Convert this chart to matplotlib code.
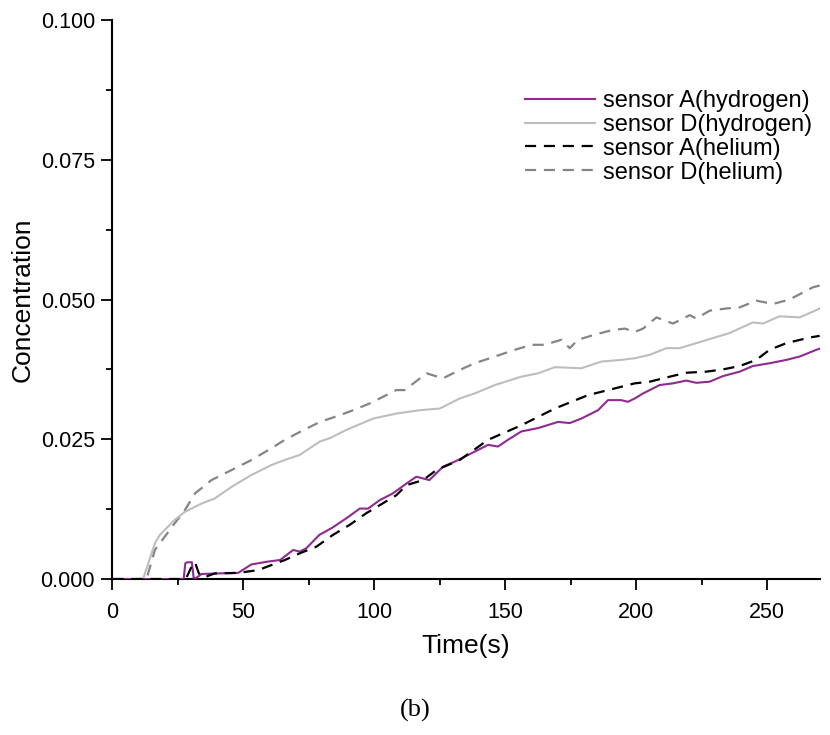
import matplotlib
matplotlib.use("Agg")
import matplotlib.pyplot as plt
from matplotlib.ticker import MultipleLocator, FormatStrFormatter

# Sensor A (hydrogen)
t_a_h2 = [0, 10, 20, 27.2, 27.8, 28.5, 30.3, 31.0, 32.0, 34, 40, 48, 53, 59, 64, 69, 71.5, 74, 79, 84,
          89.4, 94.4, 97.6, 102, 107, 112.3, 116, 121, 126.2, 130.7, 137.1, 143.4, 147.2, 151, 156.1,
          162.5, 170.1, 174.6, 179, 185.4, 189.2, 194.3, 196.8, 199.4, 202.6, 208.9, 214, 219.1, 222.9,
          228, 233.1, 239.5, 244.5, 250.9, 257.3, 262.4, 268.7, 270]
c_a_h2 = [0, 0, 0, 0, 0.0028, 0.0030, 0.0030, 0.0002, 0.0002, 0.0009, 0.0010, 0.0011, 0.0026, 0.0031,
          0.0034, 0.0052, 0.0049, 0.0055, 0.0079, 0.0092, 0.0109, 0.0126, 0.0126, 0.0141, 0.0153, 0.0171,
          0.0183, 0.0177, 0.0201, 0.0210, 0.0225, 0.0240, 0.0237, 0.0249, 0.0264, 0.0270, 0.0281, 0.0279,
          0.0287, 0.0302, 0.0320, 0.0320, 0.0317, 0.0323, 0.0332, 0.0347, 0.0350, 0.0355, 0.0351, 0.0353,
          0.0363, 0.0371, 0.0381, 0.0386, 0.0392, 0.0398, 0.0410, 0.0412]

# Sensor D (hydrogen)
t_d_h2 = [0, 11.7, 16.2, 18.1, 23.8, 27.6, 34, 39, 45.5, 53, 60.7, 65.8, 71.5, 79.2, 83, 89.4, 99.5,
          108.4, 117.3, 125, 132.6, 138.3, 146, 156.1, 162.5, 168.9, 179, 186.7, 194.3, 199.4, 205.1,
          211.5, 216.6, 222.9, 229.3, 235.6, 244.5, 248.4, 254.7, 262.4, 268.7, 270]
c_d_h2 = [0, 0, 0.0064, 0.0079, 0.0106, 0.0120, 0.0135, 0.0144, 0.0165, 0.0186, 0.0204, 0.0213, 0.0222,
          0.0246, 0.0252, 0.0267, 0.0287, 0.0296, 0.0302, 0.0305, 0.0323, 0.0332, 0.0347, 0.0362, 0.0368,
          0.0379, 0.0377, 0.0389, 0.0392, 0.0395, 0.0401, 0.0413, 0.0413, 0.0422, 0.0431, 0.0440, 0.0459,
          0.0457, 0.0470, 0.0468, 0.0481, 0.0484]

# Sensor A (helium)
t_a_he = [0, 20, 28, 30, 31.5, 33, 35, 39, 48, 55.6, 60.7, 65.8, 71.5, 77.9, 84.2, 90.6, 97, 102, 108.4,
          112.3, 118.6, 123.7, 132.6, 143.4, 156.1, 168.9, 181.6, 191.8, 199.4, 205.1, 212.8, 219.1,
          226.8, 233.1, 239.5, 245.8, 250.9, 257.3, 266.2, 270]
c_a_he = [0, 0, 0, 0.0020, 0.0030, 0.0010, 0.0003, 0.0010, 0.0011, 0.0016, 0.0025, 0.0034, 0.0046,
          0.0058, 0.0079, 0.0097, 0.0118, 0.0132, 0.0150, 0.0168, 0.0177, 0.0195, 0.0213, 0.0249, 0.0275,
          0.0305, 0.0329, 0.0341, 0.0350, 0.0353, 0.0362, 0.0369, 0.0371, 0.0375, 0.0381, 0.0392, 0.0410,
          0.0422, 0.0432, 0.0435]

# Sensor D (helium)
t_d_he = [0, 13, 16.2, 23.8, 27.6, 31.5, 37.8, 45.5, 53.1, 60.7, 65.8, 71.5, 79.2, 86.8, 91.9, 98.2,
          103.3, 108.4, 111.6, 119.9, 126.2, 132.6, 138.3, 146, 153.6, 160, 165, 171.4, 174.6, 177.7,
          184.1, 190.5, 195.6, 199.4, 202.6, 207.7, 214, 220.4, 222.9, 228, 234.4, 239.5, 245.8, 252.2,
          258.5, 267.5, 270]
c_d_he = [0, 0, 0.0052, 0.0100, 0.0123, 0.0153, 0.0177, 0.0195, 0.0213, 0.0234, 0.0249, 0.0263, 0.0281,
          0.0293, 0.0302, 0.0314, 0.0326, 0.0338, 0.0338, 0.0368, 0.0359, 0.0374, 0.0386, 0.0398, 0.0410,
          0.0419, 0.0419, 0.0428, 0.0413, 0.0428, 0.0437, 0.0445, 0.0448, 0.0442, 0.0448, 0.0468, 0.0457,
          0.0472, 0.0466, 0.0480, 0.0484, 0.0486, 0.0498, 0.0492, 0.0500, 0.0522, 0.0525]

labels = ["sensor A(hydrogen)", "sensor D(hydrogen)", "sensor A(helium)", "sensor D(helium)"]
x_ticks = [0, 50, 100, 150, 200, 250]
y_ticks = [0.000, 0.025, 0.050, 0.075, 0.100]

plt.rcParams['font.family'] = ['Liberation Sans', 'DejaVu Sans']

fig = plt.figure(figsize=(8.3, 7.35), dpi=100)
ax = fig.add_axes([0.1355, 0.2122, 0.852, 0.7606])

ax.plot(t_a_h2, c_a_h2, color='#8E2A92', lw=1.5, label=labels[0], zorder=4)
ax.plot(t_d_h2, c_d_h2, color='#BDBDBD', lw=1.5, label=labels[1], zorder=3)
ax.plot(t_a_he, c_a_he, color='black', lw=1.6, linestyle=(0, (5, 3.5)), label=labels[2], zorder=5)
ax.plot(t_d_he, c_d_he, color='#858585', lw=1.6, linestyle=(0, (5, 3.5)), label=labels[3], zorder=2)

ax.set_xlim(0, 270)
ax.set_ylim(0, 0.1)
ax.set_xticks(x_ticks)
ax.set_yticks(y_ticks)
ax.xaxis.set_minor_locator(MultipleLocator(25))
ax.yaxis.set_minor_locator(MultipleLocator(0.0125))
ax.yaxis.set_major_formatter(FormatStrFormatter('%.3f'))

for s in ['top', 'right']:
    ax.spines[s].set_visible(False)
for s in ['left', 'bottom']:
    ax.spines[s].set_linewidth(1.5)

ax.tick_params(which='major', direction='out', length=8, width=1.3, labelsize=15.5)
ax.tick_params(which='minor', direction='out', length=4, width=1.3)
ax.tick_params(axis='x', which='major', pad=8.5)
ax.tick_params(axis='y', which='major', pad=4.5)

ax.set_xlabel('Time(s)', fontsize=19, labelpad=8)
ax.set_ylabel('Concentration', fontsize=19, labelpad=4)

ax.legend(loc='upper right', bbox_to_anchor=(1.02, 0.913), frameon=False, fontsize=17,
          handlelength=3.0, handletextpad=0.34, labelspacing=0.08)

fig.text(0.5, 0.033, '(b)', ha='center', va='center', fontsize=19, family='Liberation Serif')

fig.savefig('out.png', dpi=100)
